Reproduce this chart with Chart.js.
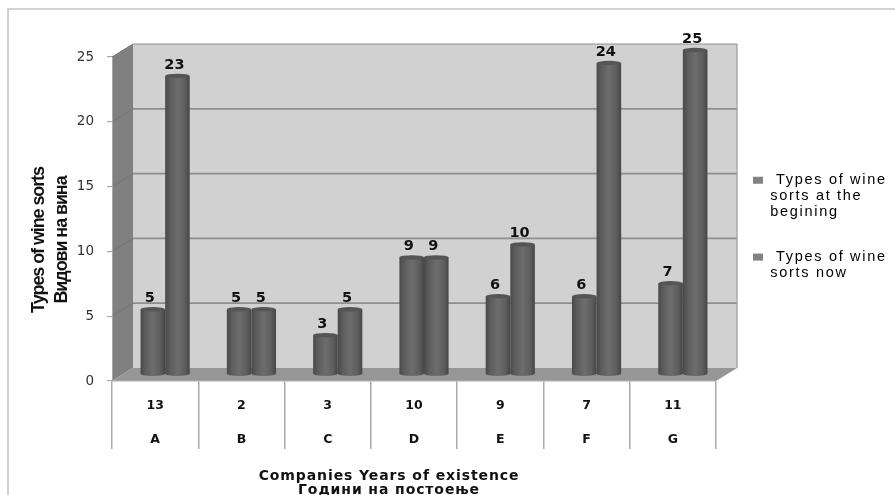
<!DOCTYPE html>
<html>
<head>
<meta charset="utf-8">
<style>
html,body{margin:0;padding:0;background:#fff;overflow:hidden}
canvas{display:block;filter:blur(0.6px)}
</style>
<script src="https://cdn.jsdelivr.net/npm/chart.js@4"></script>
</head>
<body>
<canvas id="c" width="895" height="495"></canvas>
<script>
const years = ['13','2','3','10','9','7','11'];
const companies = ['A','B','C','D','E','F','G'];
const atBeginning = [5,5,3,9,6,6,7];
const now = [23,5,5,9,10,24,25];
const seriesNames = ['Types of wine sorts at the begining','Types of wine sorts now'];
const legendLines = [[' Types of wine','sorts at the','begining'],[' Types of wine','sorts now']];
const yTitle = ['Types of wine sorts','Видови на вина'];
const xTitle = ['Companies Years of existence','Години на постоење'];

const DEPTH_X = 21, DEPTH_Y = 13, BAR_DX = 10, BAR_DY = -7;
const LEGEND_LEFT = 724, LEGEND_TOP = 144;

function shiftTitle(scale, dx, dy, spacing){
  if (scale._shifted) return;
  scale._shifted = true;
  const orig = scale.drawTitle;
  scale.drawTitle = function(){
    const ctx = this.ctx;
    ctx.save(); ctx.translate(dx, dy); ctx.letterSpacing = spacing; orig.call(this); ctx.restore();
  };
}
function cylinderGradient(c, x0, x1){
  const g = c.createLinearGradient(x0, 0, x1, 0);
  g.addColorStop(0, '#4a4a4a');
  g.addColorStop(0.2, '#5c5c5c');
  g.addColorStop(0.5, '#6d6d6d');
  g.addColorStop(0.8, '#5e5e5e');
  g.addColorStop(1, '#464646');
  return g;
}
function barFill(dsIndex){
  return function(ctx){
    const chart = ctx.chart, x = chart.scales.x;
    if (!x || !x.width || ctx.dataIndex === undefined) return '#606060';
    const w = x.width / companies.length * 0.57 / 2;
    const c = x.getPixelForValue(ctx.dataIndex);
    const x0 = c - w + dsIndex * w;
    return cylinderGradient(chart.ctx, x0, x0 + w);
  };
}

const scene = {
  id: 'scene',
  beforeLayout(chart){
    const l = chart.legend;
    if (l && !l._wrapped){
      l._wrapped = true;
      const fit = l.fit, draw = l.draw;
      l.fit = function(){ fit.call(this); this.width = 179; };
      l.draw = function(){
        const c = this.ctx;
        c.save(); c.letterSpacing = '1.7px'; draw.call(this); c.restore();
      };
    }
  },
  afterLayout(chart){
    const l = chart.legend;
    const w = l.width, h = l.height;
    l.left = LEGEND_LEFT; l.right = LEGEND_LEFT + w;
    l.top = LEGEND_TOP; l.bottom = LEGEND_TOP + h;
  },
  beforeDraw(chart){
    const c = chart.ctx, a = chart.chartArea, y = chart.scales.y;
    c.save();
    c.fillStyle = '#fff'; c.fillRect(0,0,chart.width,chart.height);
    c.strokeStyle = '#c4c4c4'; c.lineWidth = 1.6;
    c.beginPath(); c.moveTo(8, chart.height); c.lineTo(8, 9); c.lineTo(chart.width, 9); c.stroke();

    const t = y.getPixelForValue(25), b = y.getPixelForValue(0);
    const L = a.left, R = a.right;
    c.fillStyle = '#d1d1d1';
    c.fillRect(L + DEPTH_X, t - DEPTH_Y, R - L, b - t);
    c.fillStyle = '#808080';
    c.beginPath(); c.moveTo(L,t); c.lineTo(L+DEPTH_X,t-DEPTH_Y); c.lineTo(L+DEPTH_X,b-DEPTH_Y); c.lineTo(L,b); c.closePath(); c.fill();
    y.ticks.forEach(tk => {
      const p = y.getPixelForValue(tk.value);
      if (tk.value === 0) return;
      c.strokeStyle = '#747474'; c.lineWidth = 1;
      c.beginPath(); c.moveTo(L,p); c.lineTo(L+DEPTH_X,p-DEPTH_Y); c.stroke();
      c.strokeStyle = '#8e8e8e'; c.lineWidth = tk.value === 25 ? 1.2 : 1.8;
      c.beginPath(); c.moveTo(L+DEPTH_X,p-DEPTH_Y); c.lineTo(R+DEPTH_X,p-DEPTH_Y); c.stroke();
    });
    c.strokeStyle = '#9a9a9a'; c.lineWidth = 1.2;
    c.beginPath(); c.moveTo(R+DEPTH_X,t-DEPTH_Y); c.lineTo(R+DEPTH_X,b-DEPTH_Y); c.stroke();
    c.fillStyle = '#969696';
    c.beginPath(); c.moveTo(L,b); c.lineTo(L+DEPTH_X,b-DEPTH_Y); c.lineTo(R+DEPTH_X,b-DEPTH_Y); c.lineTo(R,b); c.closePath(); c.fill();
    c.restore();
  },
  beforeDatasetsDraw(chart){
    chart.ctx.save();
    chart.ctx.translate(BAR_DX, BAR_DY);
  },
  beforeDatasetDraw(chart, args){
    const c = chart.ctx;
    args.meta.data.forEach(el => {
      c.fillStyle = cylinderGradient(c, el.x - el.width/2, el.x + el.width/2);
      c.beginPath(); c.ellipse(el.x, el.base, el.width/2, 2.5, 0, 0, Math.PI*2); c.fill();
    });
  },
  afterDatasetDraw(chart, args){
    const c = chart.ctx;
    args.meta.data.forEach(el => {
      c.fillStyle = '#555555';
      c.beginPath(); c.ellipse(el.x, el.y, el.width/2, 2.2, 0, 0, Math.PI*2); c.fill();
    });
  },
  afterDatasetsDraw(chart){
    const c = chart.ctx;
    c.restore();
    c.save();
    c.font = 'bold 14.5px "DejaVu Sans"';
    c.fillStyle = '#111';
    c.textAlign = 'center'; c.textBaseline = 'middle';
    chart.data.datasets.forEach((ds, i) => {
      chart.getDatasetMeta(i).data.forEach((el, j) => {
        c.fillText(String(ds.data[j]), el.x + BAR_DX - 3, el.y + BAR_DY - 11);
      });
    });
    c.restore();
  }
};

new Chart(document.getElementById('c'), {
  type: 'bar',
  data: {
    labels: companies.map((n,i) => [years[i], n]),
    datasets: [
      {label: seriesNames[0], data: atBeginning, backgroundColor: barFill(0), clip: false},
      {label: seriesNames[1], data: now, backgroundColor: barFill(1), clip: false}
    ]
  },
  options: {
    responsive: false,
    animation: false,
    devicePixelRatio: 1,
    layout: {padding: {top: 57, left: 0, right: 0, bottom: 0}},
    datasets: {bar: {categoryPercentage: 0.57, barPercentage: 1}},
    plugins: {
      tooltip: {enabled: false},
      title: {display: false},
      legend: {
        position: 'right',
        align: 'start',
        labels: {
          boxWidth: 10, boxHeight: 7, padding: 29, color: '#333',
          font: {family: '"Liberation Sans"', size: 14.5, lineHeight: 1.1},
          generateLabels: () => legendLines.map((t,i) => ({text: t, fillStyle: '#828282', strokeStyle: '#828282', lineWidth: 0, datasetIndex: i}))
        }
      }
    },
    scales: {
      x: {
        offset: true,
        border: {color: '#a8a8a8', width: 1.5},
        grid: {drawOnChartArea: false, tickLength: 68, color: '#aaaaaa', lineWidth: 1.5, offset: true},
        ticks: {
          autoSkip: false, maxRotation: 0, minRotation: 0, padding: -60, color: '#111',
          font: {family: '"DejaVu Sans"', weight: 'bold', size: 12.5, lineHeight: 2.72}
        },
        title: {
          display: true, text: xTitle, color: '#111', padding: {top: 0, bottom: 0},
          font: {family: '"DejaVu Sans"', weight: 'bold', size: 14, lineHeight: 1}
        },
        afterFit(s){ s.height = 114; shiftTitle(s, -25, 2, '0.9px'); }
      },
      y: {
        min: 0, max: 25,
        border: {color: '#a8a8a8', width: 1},
        grid: {drawOnChartArea: false, tickLength: 5, color: '#aaaaaa', lineWidth: 1.2},
        ticks: {stepSize: 5, padding: 13, color: '#333', font: {family: '"DejaVu Sans"', size: 13.5}},
        title: {
          display: true, text: yTitle, color: '#111', padding: {top: 0, bottom: 0},
          font: {family: '"Liberation Sans Narrow","Liberation Sans"', weight: 'bold', size: 18, lineHeight: 1.3}
        },
        afterFit(s){ s.width = 112; shiftTitle(s, 27, 21, '-1.1px'); }
      }
    }
  },
  plugins: [scene]
});
</script>
</body>
</html>
